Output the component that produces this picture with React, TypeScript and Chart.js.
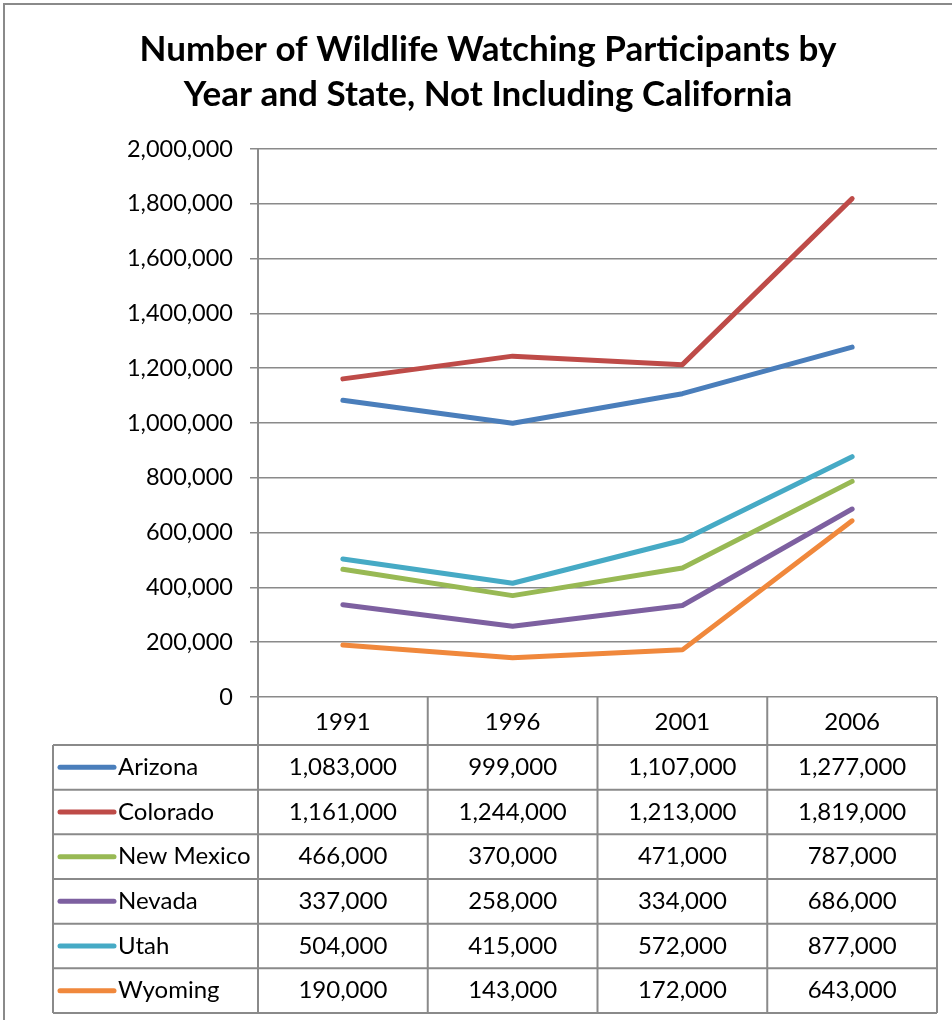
import React, { useEffect, useRef } from "react";
import { Chart, registerables } from "chart.js";

Chart.register(...registerables);

const W = 952;
const H = 1020;

const years = ["1991", "1996", "2001", "2006"];
const states = ["Arizona", "Colorado", "New Mexico", "Nevada", "Utah", "Wyoming"];
const arizona = [1083000, 999000, 1107000, 1277000];
const colorado = [1161000, 1244000, 1213000, 1819000];
const newMexico = [466000, 370000, 471000, 787000];
const nevada = [337000, 258000, 334000, 686000];
const utah = [504000, 415000, 572000, 877000];
const wyoming = [190000, 143000, 172000, 643000];
const seriesValues = [arizona, colorado, newMexico, nevada, utah, wyoming];
const colors = ["#4A7EBB", "#BE4B48", "#98B954", "#7D60A0", "#46AAC5", "#F0883C"];
const titleLines = [
  "Number of Wildlife Watching Participants by",
  "Year and State, Not Including California",
];
const yMin = 0;
const yMax = 2000000;
const yStep = 200000;

const FONT = "Lato, 'Open Sans', sans-serif";
const GRAY = "#8a8a8a";

const fmt = (v: number) => v.toLocaleString("en-US");

const tablePlugin = {
  id: "excelTable",
  afterDraw(chart: any) {
    const ctx = chart.ctx as CanvasRenderingContext2D;
    const area = chart.chartArea;
    const xs = chart.scales.x;
    ctx.save();

    // frame
    ctx.strokeStyle = GRAY;
    ctx.lineWidth = 2;
    ctx.beginPath();
    ctx.moveTo(4, H);
    ctx.lineTo(4, 4);
    ctx.lineTo(W, 4);
    ctx.stroke();

    // title
    ctx.fillStyle = "#000";
    ctx.textAlign = "center";
    ctx.textBaseline = "middle";
    ctx.font = `bold 35px ${FONT}`;
    titleLines.forEach((t, i) => ctx.fillText(t, 488, 50 + i * 45));

    // table geometry
    const centers = years.map((_, i) => xs.getPixelForValue(i));
    const half = (centers[1] - centers[0]) / 2;
    const bounds = [centers[0] - half, ...centers.map((c) => c + half)];
    const headTop = area.bottom;
    const headBottom = 745;
    const tableBottom = 1013;
    const tableLeft = 53;
    const rowH = (tableBottom - headBottom) / states.length;

    ctx.strokeStyle = GRAY;
    ctx.lineWidth = 2;
    ctx.beginPath();
    bounds.forEach((b) => {
      ctx.moveTo(b, headTop);
      ctx.lineTo(b, tableBottom);
    });
    ctx.moveTo(tableLeft, headBottom);
    ctx.lineTo(tableLeft, tableBottom);
    for (let k = 0; k <= states.length; k++) {
      const yy = headBottom + k * rowH;
      ctx.moveTo(tableLeft, yy);
      ctx.lineTo(area.right, yy);
    }
    ctx.stroke();

    // header text
    ctx.font = `24px ${FONT}`;
    ctx.fillStyle = "#000";
    ctx.textAlign = "center";
    ctx.textBaseline = "middle";
    years.forEach((yr, i) => ctx.fillText(yr, centers[i], (headTop + headBottom) / 2 + 1));

    // rows
    states.forEach((s, r) => {
      const cy = headBottom + rowH * (r + 0.5);
      ctx.strokeStyle = colors[r];
      ctx.lineWidth = 5;
      ctx.lineCap = "round";
      ctx.beginPath();
      ctx.moveTo(60, cy);
      ctx.lineTo(114, cy);
      ctx.stroke();
      ctx.fillStyle = "#000";
      ctx.textAlign = "left";
      ctx.fillText(s, 118, cy);
      ctx.textAlign = "center";
      seriesValues[r].forEach((v, i) => ctx.fillText(fmt(v), centers[i], cy));
    });

    ctx.restore();
  },
};

export default function App() {
  const ref = useRef<HTMLCanvasElement>(null);
  useEffect(() => {
    if (!ref.current) return;
    const chart = new Chart(ref.current, {
      type: "line",
      data: {
        labels: years,
        datasets: states.map((s, i) => ({
          label: s,
          data: seriesValues[i],
          borderColor: colors[i],
          backgroundColor: colors[i],
          borderWidth: 5,
          pointRadius: 0,
          tension: 0,
          borderCapStyle: "round" as const,
          borderJoinStyle: "round" as const,
        })),
      },
      options: {
        animation: false,
        responsive: false,
        devicePixelRatio: 1,
        layout: { padding: { left: 0, top: 149, right: 15, bottom: 323 } },
        plugins: {
          legend: { display: false },
          title: { display: false },
          tooltip: { enabled: false },
        },
        scales: {
          x: {
            type: "category",
            offset: true,
            display: false,
          },
          y: {
            min: yMin,
            max: yMax,
            afterFit: (scale: any) => {
              scale.width = 258;
            },
            ticks: {
              stepSize: yStep,
              padding: 17,
              color: "#000",
              font: { family: FONT, size: 23.5 },
              callback: (v: any) => fmt(Number(v)),
            },
            grid: {
              color: GRAY,
              lineWidth: 1.5,
              tickLength: 8,
            },
            border: { color: GRAY, width: 2 },
          },
        },
      },
      plugins: [tablePlugin],
    });
    return () => chart.destroy();
  }, []);
  return (
    <div style={{ position: "absolute", left: 0, top: 0, width: W, height: H, background: "#fff" }}>
      <canvas ref={ref} width={W} height={H} style={{ width: W, height: H }} />
    </div>
  );
}
